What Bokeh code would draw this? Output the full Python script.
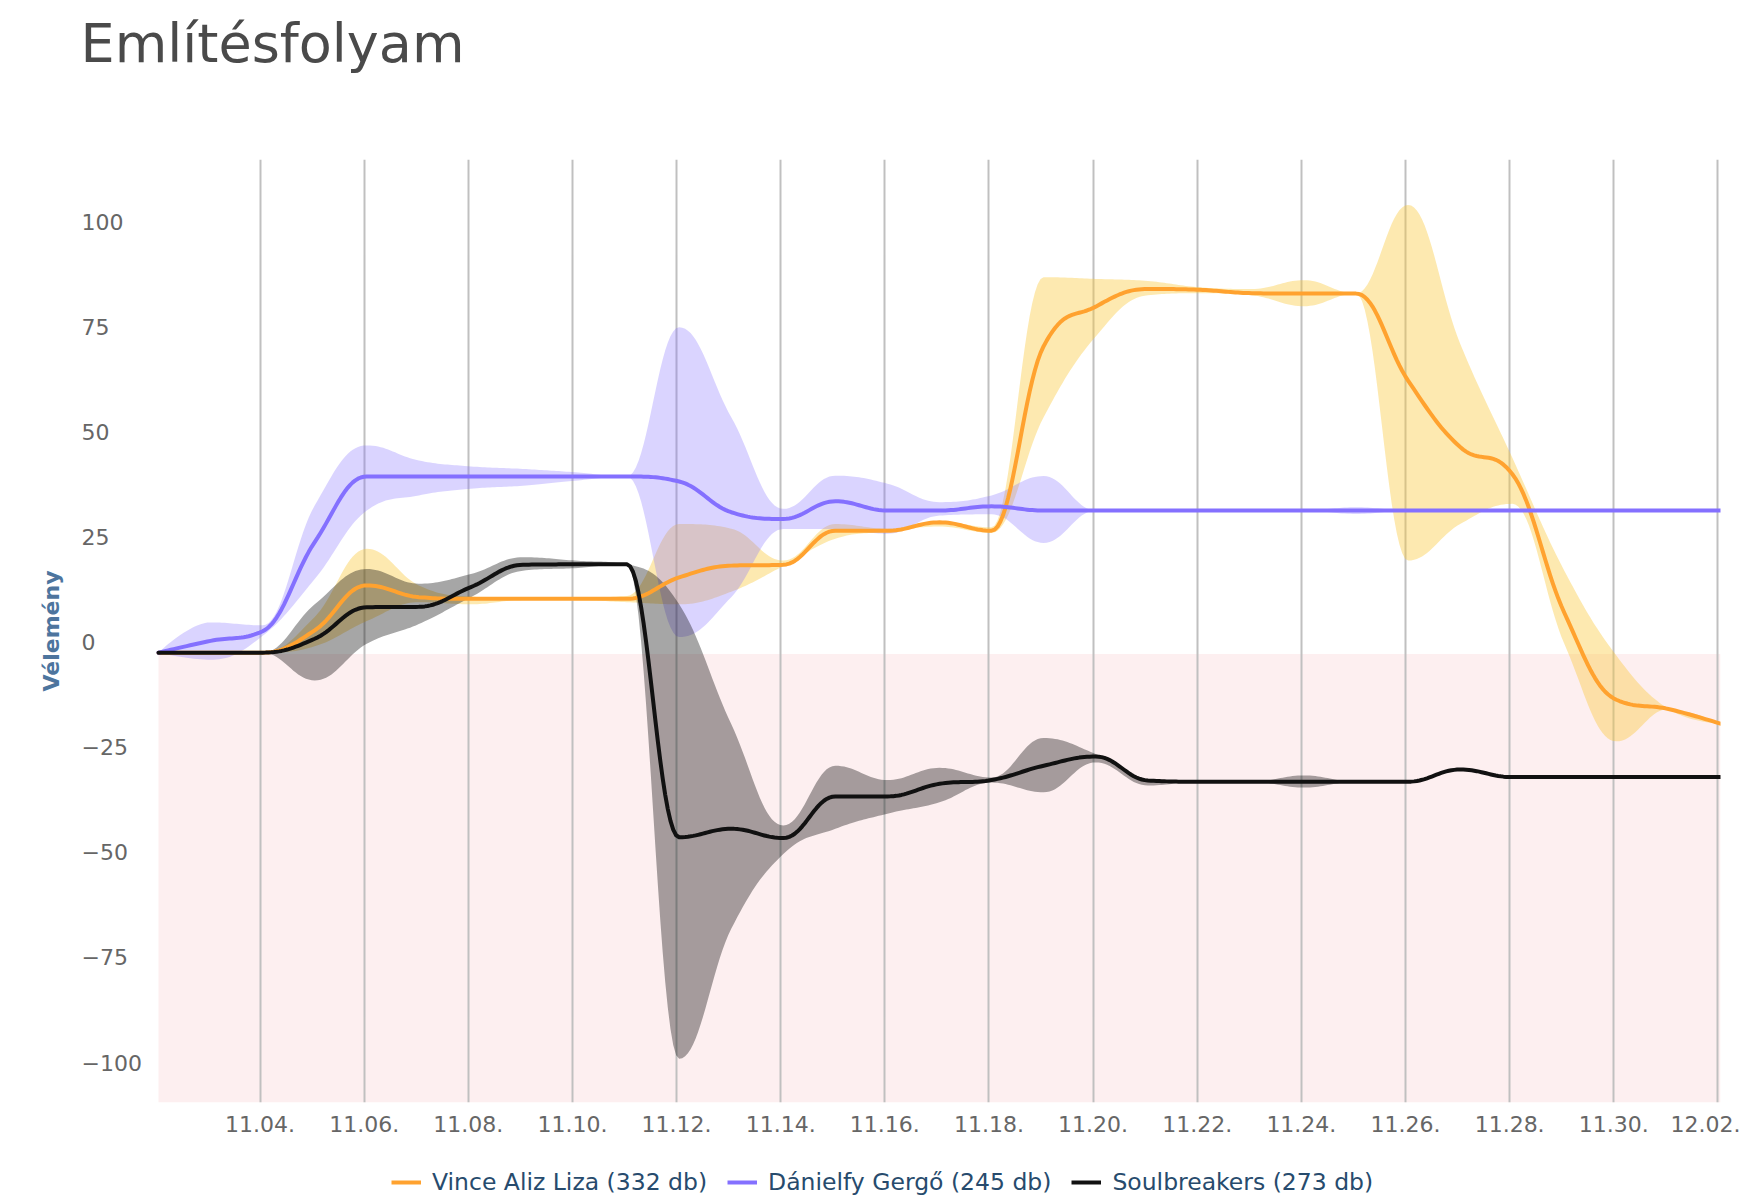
import numpy as np
from bokeh.plotting import figure
from bokeh.layouts import column
from bokeh.models import Range1d, FixedTicker, BoxAnnotation, Legend, LegendItem, Title
from bokeh.core.properties import value
from bokeh.embed import file_html
from bokeh.resources import INLINE

# ---------------- data ----------------
# day of November (31 = Dec 1, 32 = Dec 2); points are stamped ~01:00
days = list(range(2, 33))
day_offset = 0.05

vince = [-2.5, -2.5, -2.5, 2.8, 13.5, 10.7, 10.3, 10.3, 10.3, 10.3, 15.4, 18.2, 18.4, 26.5, 26.5, 28.5,
         26.5, 70.4, 79.8, 84.0, 83.8, 83.0, 82.9, 82.9, 62.2, 46.4, 40.0, 7.0, -13.7, -15.9, -19.4]
vince_low = [-2.5, -2.5, -2.5, -1.0, 5.0, 9.5, 9.0, 10.0, 10.0, 9.5, 9.0, 12.0, 18.1, 24.6, 26.3, 27.5,
             26.0, 53.5, 72.7, 82.5, 83.0, 82.5, 79.9, 82.9, 19.4, 28.1, 32.9, -0.4, -23.6, -15.9, -19.4]
vince_high = [-2.5, -2.5, -2.5, 6.0, 22.2, 13.5, 10.8, 10.6, 10.6, 11.0, 28.1, 27.0, 19.4, 28.1, 27.0, 28.7,
              27.3, 86.8, 86.4, 85.9, 84.4, 84.0, 86.1, 82.9, 104.0, 71.0, 43.9, 17.0, -3.2, -15.9, -19.4]

daniel = [-2.5, 0.3, 2.6, 23.8, 39.4, 39.4, 39.4, 39.4, 39.4, 39.4, 38.2, 30.9, 29.3, 33.5, 31.3, 31.3,
          32.3, 31.3, 31.3, 31.3, 31.3, 31.3, 31.3, 31.3, 31.3, 31.3, 31.3, 31.3, 31.3, 31.3, 31.3]
daniel_low = [-2.5, -4.2, 1.5, 15.0, 31.3, 34.9, 36.5, 37.2, 38.4, 39.4, 1.2, 10.7, 26.9, 26.9, 25.8, 30.1,
              30.4, 23.6, 31.3, 31.3, 31.3, 31.3, 31.3, 30.5, 31.3, 31.3, 31.3, 31.3, 31.3, 31.3, 31.3]
daniel_high = [-2.5, 4.7, 4.0, 32.5, 46.8, 43.2, 41.8, 41.2, 40.4, 39.4, 74.9, 53.5, 31.7, 39.6, 37.7, 33.3,
               34.9, 39.5, 31.3, 31.3, 31.3, 31.3, 31.3, 32.1, 31.3, 31.3, 31.3, 31.3, 31.3, 31.3, 31.3]

soul = [-2.5, -2.5, -2.5, 0.8, 8.3, 8.4, 13.1, 18.4, 18.5, 18.5, -46.4, -44.4, -46.6, -36.7, -36.7, -33.7,
        -32.8, -29.4, -27.2, -32.9, -33.2, -33.2, -33.2, -33.2, -33.2, -30.3, -32.1, -32.1, -32.1, -32.1, -32.1]
soul_low = [-2.5, -2.5, -2.5, -9.1, -0.4, 4.3, 10.7, 17.0, 17.6, 18.5, -99.1, -68.2, -50.4, -44.4, -40.8, -38.1,
            -33.4, -35.7, -28.6, -34.1, -33.2, -33.2, -34.6, -33.2, -33.2, -30.3, -32.1, -32.1, -32.1, -32.1, -32.1]
soul_high = [-2.5, -2.5, -2.5, 9.0, 17.4, 13.9, 16.2, 20.2, 19.4, 18.5, 9.0, -19.5, -43.6, -29.4, -32.8, -29.9,
             -32.2, -22.8, -26.6, -32.5, -33.2, -33.2, -31.7, -33.2, -33.2, -30.3, -32.1, -32.1, -32.1, -32.1, -32.1]

series_names = ["Vince Aliz Liza (332 db)", "Dánielfy Gergő (245 db)", "Soulbreakers (273 db)"]

tick_days = list(range(4, 33, 2))
tick_labels = ["11.04.", "11.06.", "11.08.", "11.10.", "11.12.", "11.14.", "11.16.", "11.18.",
               "11.20.", "11.22.", "11.24.", "11.26.", "11.28.", "11.30.", "12.02."]
y_ticks = [-100, -75, -50, -25, 0, 25, 50, 75, 100]
y_labels = ["\u2212100", "\u221275", "\u221250", "\u221225", "0", "25", "50", "75", "100"]
negative_band_top = -2.8

FONT = "DejaVu Sans"
W = 1740


# Highcharts-style spline (bezier with smoothing 1.5) sampled for drawing
def hc_spline(xs, ys, steps=20):
    xs = np.asarray(xs, float)
    ys = np.asarray(ys, float)
    n = len(xs)
    sm = 1.5
    den = sm + 1
    lcx, lcy, rcx, rcy = xs.copy(), ys.copy(), xs.copy(), ys.copy()
    for i in range(1, n - 1):
        x, y = xs[i], ys[i]
        px, py = xs[i - 1], ys[i - 1]
        nx, ny = xs[i + 1], ys[i + 1]
        lx = (sm * x + px) / den
        ly = (sm * y + py) / den
        rx = (sm * x + nx) / den
        ry = (sm * y + ny) / den
        if rx != lx:
            c = (ry - ly) * (rx - x) / (rx - lx) + y - ry
            ly += c
            ry += c
        if ly > py and ly > y:
            ly = max(py, y); ry = 2 * y - ly
        elif ly < py and ly < y:
            ly = min(py, y); ry = 2 * y - ly
        if ry > ny and ry > y:
            ry = max(ny, y); ly = 2 * y - ry
        elif ry < ny and ry < y:
            ry = min(ny, y); ly = 2 * y - ry
        lcx[i], lcy[i], rcx[i], rcy[i] = lx, ly, rx, ry
    t = np.linspace(0, 1, steps + 1)[1:]
    a = (1 - t) ** 3
    b = 3 * (1 - t) ** 2 * t
    c = 3 * (1 - t) * t ** 2
    d = t ** 3
    ox, oy = [xs[0]], [ys[0]]
    for i in range(1, n):
        ox.extend(a * xs[i - 1] + b * rcx[i - 1] + c * lcx[i] + d * xs[i])
        oy.extend(a * ys[i - 1] + b * rcy[i - 1] + c * lcy[i] + d * ys[i])
    return np.array(ox), np.array(oy)


# ---------------- layout geometry (px) ----------------
FRAME_L = 75          # frame starts here; the data area starts at PLOT_L
PLOT_L = 158
PLOT_R = 1720
LABEL_X = 81          # left edge of the (left-aligned) y tick labels

xd = [dd + day_offset for dd in days]
x_start, x_end = xd[0], xd[-1]
ppd = (PLOT_R - PLOT_L) / (x_end - x_start)          # px per day
x_lo = x_start - (PLOT_L - FRAME_L) / ppd
x_label = x_start - (PLOT_L - LABEL_X) / ppd

# ---------------- title strip ----------------
TH = 100
tf = figure(width=W, height=TH, x_range=Range1d(0, 1), y_range=Range1d(0, 1),
            output_backend="svg", toolbar_location=None, min_border=0,
            x_axis_location=None, y_axis_location=None)
tf.xgrid.visible = False
tf.ygrid.visible = False
tf.outline_line_color = None
tf.title = Title(text="Említésfolyam", align="right", offset=1256, standoff=22, vertical_align="top",
                 text_font=FONT, text_font_size="54px", text_font_style="normal", text_color="#4a4a4a")

# ---------------- main chart ----------------
p = figure(width=W, height=1045,
           x_range=Range1d(x_lo, x_end), y_range=Range1d(-109.5, 114.8),
           output_backend="svg", toolbar_location=None,
           min_border_left=FRAME_L, min_border_right=W - PLOT_R, min_border_top=59, min_border_bottom=43)
p.outline_line_color = None
p.background_fill_color = "white"

p.add_layout(BoxAnnotation(left=x_start, top=negative_band_top, fill_color="#fdeff0", fill_alpha=1.0,
                           line_alpha=0, level="image"))

p.xgrid.ticker = FixedTicker(ticks=tick_days)
p.xgrid.grid_line_color = "#c0c0c0"
p.xgrid.grid_line_width = 2
p.ygrid.grid_line_color = None

p.xaxis.ticker = FixedTicker(ticks=tick_days)
p.xaxis.major_label_overrides = dict(zip(tick_days, tick_labels))
p.xaxis.axis_line_color = None
p.xaxis.major_tick_line_color = None
p.xaxis.minor_tick_line_color = None
p.xaxis.major_label_standoff = 7
p.xaxis.major_label_text_font = FONT
p.xaxis.major_label_text_font_size = "22px"
p.xaxis.major_label_text_color = "#666666"

# y axis carries the title; its tick labels are drawn left-aligned at the tick values
p.yaxis.ticker = FixedTicker(ticks=[])
p.yaxis.axis_line_color = None
p.yaxis.major_tick_line_color = None
p.yaxis.minor_tick_line_color = None
p.yaxis.major_tick_out = 0
p.yaxis.major_label_standoff = 0
p.yaxis.axis_label = "Vélemény"
p.yaxis.axis_label_standoff = 12
p.yaxis.axis_label_text_font = FONT
p.yaxis.axis_label_text_font_size = "22px"
p.yaxis.axis_label_text_font_style = "bold"
p.yaxis.axis_label_text_color = "#4d759e"

p.text(x=[x_label] * len(y_ticks), y=y_ticks, text=y_labels, text_align="left", text_baseline="middle",
       text_font=value(FONT), text_font_size="22px", text_color="#666666")

colors_line = ["#ffa22f", "#8470ff", "#111111"]
band_fill = [("#fac83a", 0.40), ("#8470ff", 0.30), ("#000000", 0.35)]
bands = [(vince_low, vince_high), (daniel_low, daniel_high), (soul_low, soul_high)]
for (lo, hi), (fc, fa) in zip(bands, band_fill):
    bx, blo = hc_spline(xd, lo)
    _, bhi = hc_spline(xd, hi)
    p.varea(x=bx, y1=blo, y2=bhi, fill_color=fc, fill_alpha=fa)

for ys, col in zip([vince, daniel, soul], colors_line):
    lx, ly = hc_spline(xd, ys)
    p.line(lx, ly, line_color=col, line_width=4, line_join="round", line_cap="round")

# ---------------- legend strip ----------------
LH = 52
lg = figure(width=W, height=LH, x_range=Range1d(0, 1), y_range=Range1d(0, 1),
            output_backend="svg", toolbar_location=None, min_border=0,
            x_axis_location=None, y_axis_location=None)
lg.xgrid.visible = False
lg.ygrid.visible = False
lg.outline_line_color = None
key_renderers = [lg.line(x=[np.nan], y=[np.nan], line_color=col, line_width=4) for col in colors_line]
legend = Legend(items=[LegendItem(label=nm, renderers=[r]) for nm, r in zip(series_names, key_renderers)],
                orientation="horizontal", location=(391 - FRAME_L, 1),
                label_text_font=FONT, label_text_font_size="23.5px", label_text_color="#274b6d",
                glyph_width=30, glyph_height=26, label_height=26, label_standoff=11, spacing=20,
                padding=0, margin=0, border_line_alpha=0, background_fill_alpha=0)
lg.add_layout(legend)

layout = column(tf, p, lg, spacing=0)
open("out.html", "w").write(file_html(layout, INLINE))
